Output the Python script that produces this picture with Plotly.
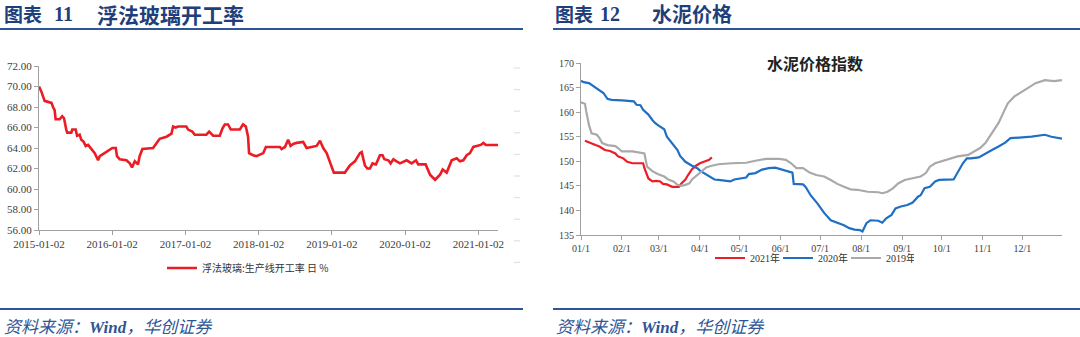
import plotly.graph_objects as go

# ---------------- 浮法玻璃:生产线开工率 (日, %) ----------------
glass_dates = [
    "2015-01-02", "2015-01-14", "2015-01-30", "2015-02-24", "2015-03-05", "2015-03-13",
    "2015-03-21", "2015-03-26", "2015-04-15", "2015-04-28", "2015-05-07", "2015-05-18",
    "2015-05-23", "2015-06-12", "2015-06-17", "2015-07-04", "2015-07-11", "2015-07-24",
    "2015-08-01", "2015-08-13", "2015-08-23", "2015-09-04", "2015-09-20", "2015-10-07",
    "2015-10-24", "2015-11-01", "2015-11-17", "2015-12-01", "2015-12-12", "2016-01-03",
    "2016-01-20", "2016-01-26", "2016-02-09", "2016-03-13", "2016-03-30", "2016-04-10",
    "2016-04-24", "2016-05-10", "2016-05-18", "2016-06-01", "2016-07-24", "2016-08-10",
    "2016-08-26", "2016-09-29", "2016-10-24", "2016-11-01", "2016-11-13", "2016-11-26",
    "2017-01-06", "2017-01-15", "2017-02-05", "2017-02-17", "2017-04-16", "2017-04-30",
    "2017-05-20", "2017-06-22", "2017-07-05", "2017-07-17", "2017-08-02", "2017-08-16",
    "2017-09-30", "2017-10-16", "2017-10-30", "2017-11-10", "2017-11-15", "2017-12-05",
    "2017-12-22", "2018-01-25", "2018-02-07", "2018-04-18", "2018-04-26", "2018-05-13",
    "2018-05-29", "2018-06-10", "2018-06-23", "2018-07-10", "2018-08-12", "2018-08-29",
    "2018-09-23", "2018-10-18", "2018-11-04", "2018-11-20", "2018-12-07", "2018-12-23",
    "2019-01-12", "2019-03-08", "2019-03-25", "2019-04-02", "2019-04-27", "2019-05-22",
    "2019-05-31", "2019-06-16", "2019-06-28", "2019-07-11", "2019-07-24", "2019-08-10",
    "2019-08-30", "2019-09-12", "2019-09-21", "2019-10-11", "2019-10-22", "2019-11-05",
    "2019-11-21", "2019-12-08", "2020-01-10", "2020-02-04", "2020-02-26", "2020-03-08",
    "2020-04-14", "2020-04-27", "2020-05-06", "2020-05-31", "2020-06-25", "2020-07-08",
    "2020-07-28", "2020-08-22", "2020-09-16", "2020-10-02", "2020-10-19", "2020-11-05",
    "2020-11-21", "2020-12-08", "2021-01-02", "2021-01-14", "2021-01-27", "2021-02-09",
    "2021-04-10",
]
glass_rate = [
    70.0, 69.5, 68.6, 68.5, 68.4, 68.0,
    67.7, 66.8, 66.8, 67.1, 66.9, 65.8,
    65.5, 65.5, 65.8, 65.8, 65.2, 65.3,
    64.8, 64.6, 64.2, 64.3, 63.9, 63.5,
    62.8, 63.2, 63.4, 63.6, 63.7, 64.0,
    64.0, 63.2, 62.9, 62.8, 62.5, 62.1,
    62.7, 62.4, 63.2, 63.9, 64.0, 64.5,
    64.9, 65.1, 65.4, 66.1, 66.0, 66.1,
    66.1, 65.8, 65.6, 65.3, 65.3, 65.6,
    65.2, 65.2, 65.9, 66.3, 66.3, 65.8,
    65.8, 66.3, 66.1, 65.1, 63.5, 63.3,
    63.2, 63.5, 64.1, 64.1, 63.9, 64.1,
    64.8, 64.2, 64.4, 64.5, 64.6, 64.0,
    64.1, 64.2, 64.7, 64.0, 63.5, 62.7,
    61.6, 61.6, 62.0, 62.3, 62.7, 63.5,
    63.6, 62.3, 62.0, 62.0, 62.5, 62.4,
    63.3, 63.3, 62.9, 62.8, 62.5, 62.9,
    62.7, 62.5, 62.8, 62.5, 62.8, 62.4,
    62.4, 61.7, 61.4, 60.9, 61.4, 61.9,
    61.6, 62.8, 63.0, 62.7, 62.8, 63.3,
    63.5, 64.1, 64.2, 64.3, 64.5, 64.3,
    64.3,
]
glass_ticks = ["2015-01-02", "2016-01-02", "2017-01-02", "2018-01-02",
               "2019-01-02", "2020-01-02", "2021-01-02"]
glass_yticks = [56, 58, 60, 62, 64, 66, 68, 70, 72]

# ---------------- 水泥价格指数 (月-日, 按年份对比) ----------------
cement_2021_md = [
    "01-04", "01-07", "01-12", "01-15", "01-19", "01-23", "01-27", "01-29", "02-02",
    "02-05", "02-09", "02-17", "02-18", "02-21", "02-24", "02-27", "03-02", "03-04",
    "03-07", "03-11", "03-16", "03-18", "03-21", "03-23", "03-26", "03-29", "04-01",
    "04-04", "04-08", "04-10",
]
cement_2021 = [
    154.2, 153.8, 153.3, 153.0, 152.3, 152.1, 151.6, 151.0, 150.6,
    149.9, 149.6, 149.6, 148.6, 146.5, 145.9, 146.0, 145.9, 145.4,
    145.3, 144.8, 144.8, 145.5, 146.3, 147.2, 148.4, 149.1, 149.6,
    149.9, 150.3, 150.8,
]

cement_2020_md = [
    "01-01", "01-03", "01-07", "01-10", "01-14", "01-18", "01-21", "01-24", "02-01",
    "02-10", "02-12", "02-15", "02-17", "02-21", "02-24", "02-26", "03-01", "03-05",
    "03-07", "03-11", "03-15", "03-17", "03-21", "03-26", "03-30", "04-01", "04-04",
    "04-08", "04-12", "04-15", "04-22", "04-24", "04-27", "05-01", "05-06", "05-08",
    "05-13", "05-18", "05-23", "05-28", "06-01", "06-05", "06-10", "06-11", "06-18",
    "06-20", "06-24", "06-29", "07-04", "07-09", "07-14", "07-19", "07-23", "07-27",
    "07-31", "08-02", "08-05", "08-08", "08-14", "08-17", "08-20", "08-24", "08-27",
    "08-31", "09-05", "09-09", "09-13", "09-15", "09-18", "09-22", "09-26", "09-29",
    "10-10", "10-13", "10-17", "10-20", "10-23", "10-29", "11-03", "11-08", "11-13",
    "11-18", "11-22", "11-28", "12-08", "12-18", "12-23", "12-31",
]
cement_2020 = [
    166.4, 166.1, 165.9, 165.4, 164.6, 163.9, 162.7, 162.5, 162.4,
    162.2, 161.5, 161.4, 160.5, 159.5, 158.4, 157.8, 157.2, 156.5,
    155.0, 153.7, 152.3, 151.1, 149.9, 149.1, 148.6, 148.1, 147.6,
    146.9, 146.3, 146.2, 146.0, 145.9, 146.3, 146.5, 146.7, 147.4,
    147.6, 148.3, 148.6, 148.7, 148.4, 148.0, 147.7, 145.4, 145.3,
    144.8, 143.0, 141.4, 139.5, 138.0, 137.5, 137.0, 136.4, 136.1,
    136.0, 135.7, 137.4, 138.0, 137.9, 137.5, 138.4, 139.1, 140.4,
    140.8, 141.1, 141.6, 142.8, 143.1, 144.5, 144.8, 145.9, 146.2,
    146.3, 147.6, 149.6, 150.6, 150.6, 150.8, 151.6, 152.3, 153.0,
    153.8, 154.7, 154.8, 155.0, 155.4, 155.0, 154.6,
]

cement_2019_md = [
    "01-01", "01-04", "01-05", "01-07", "01-09", "01-13", "01-15", "01-17", "01-21",
    "01-27", "01-29", "02-01", "02-09", "02-16", "02-18", "02-20", "02-24", "02-28",
    "03-05", "03-08", "03-12", "03-15", "03-18", "03-21", "03-24", "03-26", "03-30",
    "04-03", "04-06", "04-10", "04-15", "04-25", "05-06", "05-13", "05-21", "05-31",
    "06-05", "06-09", "06-13", "06-18", "06-23", "06-28", "07-04", "07-09", "07-14",
    "07-19", "07-24", "07-29", "08-06", "08-14", "08-17", "08-21", "08-25", "08-29",
    "09-03", "09-08", "09-15", "09-19", "09-22", "09-26", "10-01", "10-08", "10-13",
    "10-21", "10-26", "10-30", "11-03", "11-08", "11-13", "11-17", "11-20", "11-25",
    "12-01", "12-06", "12-11", "12-18", "12-25", "12-31",
]
cement_2019 = [
    162.0, 161.7, 160.1, 157.4, 155.7, 155.4, 154.7, 153.7, 153.3,
    153.1, 152.7, 152.0, 152.0, 151.8, 151.6, 148.9, 148.0, 147.4,
    146.9, 146.3, 145.9, 145.2, 145.0, 145.2, 145.5, 146.3, 147.2,
    148.0, 148.8, 149.1, 149.4, 149.6, 149.7, 150.1, 150.5, 150.5,
    150.3, 149.6, 148.6, 148.6, 147.7, 147.2, 146.9, 146.2, 145.4,
    144.8, 144.3, 144.2, 143.8, 143.7, 143.5, 143.8, 144.5, 145.5,
    146.2, 146.5, 146.9, 147.6, 148.9, 149.6, 150.0, 150.5, 151.0,
    151.3, 152.0, 152.7, 153.7, 155.7, 157.8, 160.1, 161.8, 163.2,
    164.2, 165.2, 165.9, 166.5, 166.3, 166.5,
]
cement_month_ticks = ["01-01", "02-01", "03-01", "04-01", "05-01", "06-01",
                      "07-01", "08-01", "09-01", "10-01", "11-01", "12-01"]
cement_yticks = [135, 140, 145, 150, 155, 160, 165, 170]

# all seasonal series share one display year on the month/day axis
SEASON_YEAR = "2021-"


def on_season_axis(md_list):
    return [SEASON_YEAR + md for md in md_list]


W, H = 1080, 337
NAVY = "#2f5597"
HEAD_BLUE = "#1f3f7a"
AXIS_GREY = "#a0a0a0"
TICK_FONT = dict(family="Liberation Serif, Times New Roman, serif", size=11, color="#404040")
CJK = "Noto Sans CJK SC"


def px_x(x):
    return x / W


def px_y(y):
    return 1 - y / H


fig = go.Figure()

fig.add_trace(go.Scatter(
    x=glass_dates, y=glass_rate, mode="lines", line=dict(color="#ec1c24", width=2.6),
    name="浮法玻璃:生产线开工率 日 %", xaxis="x", yaxis="y", legend="legend",
))

series = [
    ("2021年", cement_2021_md, cement_2021, "#ee1c25"),
    ("2020年", cement_2020_md, cement_2020, "#1f6fc5"),
    ("2019年", cement_2019_md, cement_2019, "#a9a9a9"),
]
for name, md, vals, col in series:
    fig.add_trace(go.Scatter(
        x=on_season_axis(md), y=vals, mode="lines", line=dict(color=col, width=2.2),
        name=name, xaxis="x2", yaxis="y2", legend="legend2",
    ))

axis_common = dict(
    showgrid=False, zeroline=False, showline=True, linecolor=AXIS_GREY, linewidth=1,
    ticks="outside", ticklen=4, tickcolor=AXIS_GREY, tickfont=TICK_FONT, automargin=False,
)

fig.update_layout(
    template="none",
    width=W, height=H,
    margin=dict(l=0, r=0, t=0, b=0, pad=0, autoexpand=False),
    paper_bgcolor="white", plot_bgcolor="white",
    font=dict(family=CJK),
    xaxis=dict(
        domain=[px_x(39), px_x(498)], anchor="y", type="date",
        range=["2015-01-02", "2021-04-10"],
        tickvals=glass_ticks, tickformat="%Y-%m-%d", **axis_common,
    ),
    yaxis=dict(
        domain=[px_y(230), px_y(66)], anchor="x",
        range=[56, 72], tickvals=glass_yticks, tickformat=".2f", **axis_common,
    ),
    xaxis2=dict(
        domain=[px_x(581), px_x(1062)], anchor="y2", type="date",
        range=[SEASON_YEAR + "01-01", SEASON_YEAR + "12-31"],
        tickvals=on_season_axis(cement_month_ticks), tickformat="%m/%-d",
        **{**axis_common, "tickfont": dict(TICK_FONT, size=10)},
    ),
    yaxis2=dict(
        domain=[px_y(235), px_y(63)], anchor="x2",
        range=[135, 170], tickvals=cement_yticks,
        **{**axis_common, "tickfont": dict(TICK_FONT, size=10)},
    ),
    legend=dict(
        orientation="h", x=px_x(162), y=px_y(268), xanchor="left", yanchor="middle",
        font=dict(family=CJK, size=10, color="#333333"), bgcolor="rgba(0,0,0,0)",
        itemwidth=30, tracegroupgap=0,
    ),
    legend2=dict(
        orientation="h", x=px_x(710), y=px_y(258), xanchor="left", yanchor="middle",
        font=dict(family="Liberation Serif, " + CJK, size=10, color="#333333"),
        bgcolor="rgba(0,0,0,0)", itemwidth=30, entrywidth=23, entrywidthmode="pixels",
    ),
    showlegend=True,
)

annotations = [
    dict(text="<b>图表</b>", x=px_x(2), y=px_y(14), font=dict(family=CJK, size=19, color=HEAD_BLUE)),
    dict(text="<b>11</b>", x=px_x(52), y=px_y(14),
         font=dict(family="Liberation Serif", size=20, color=HEAD_BLUE)),
    dict(text="<b>浮法玻璃开工率</b>", x=px_x(95), y=px_y(14),
         font=dict(family=CJK, size=21, color=HEAD_BLUE)),
    dict(text="<b>图表</b>", x=px_x(553), y=px_y(14), font=dict(family=CJK, size=19, color=HEAD_BLUE)),
    dict(text="<b>12</b>", x=px_x(598), y=px_y(14),
         font=dict(family="Liberation Serif", size=20, color=HEAD_BLUE)),
    dict(text="<b>水泥价格</b>", x=px_x(650), y=px_y(14),
         font=dict(family=CJK, size=20, color=HEAD_BLUE)),
    dict(text="资料来源：<b>Wind</b>，华创证券", x=px_x(2), y=px_y(327),
         font=dict(family="Liberation Serif, " + CJK, size=17, color=NAVY, style="italic")),
    dict(text="资料来源：<b>Wind</b>，华创证券", x=px_x(554), y=px_y(327),
         font=dict(family="Liberation Serif, " + CJK, size=17, color=NAVY, style="italic")),
]
for a in annotations:
    fig.add_annotation(xref="paper", yref="paper", xanchor="left", yanchor="middle",
                       showarrow=False, **a)

fig.add_annotation(
    text="<b>水泥价格指数</b>", xref="paper", yref="paper", x=px_x(815), y=px_y(63),
    xanchor="center", yanchor="middle", showarrow=False,
    font=dict(family=CJK, size=16, color="#222222"),
)

# header / footer rules
rules = [(0, 523, 29), (553, W, 29), (0, 523, 309), (553, W, 309)]
for x0, x1, y in rules:
    fig.add_shape(type="line", xref="paper", yref="paper",
                  x0=px_x(x0), x1=px_x(x1), y0=px_y(y), y1=px_y(y),
                  line=dict(color=NAVY, width=2))

# faint unlabeled tick marks of the unused right-hand axis
for i in range(10):
    y = 68 + i * 21.6
    fig.add_shape(type="line", xref="paper", yref="paper",
                  x0=px_x(514), x1=px_x(520), y0=px_y(y), y1=px_y(y),
                  line=dict(color="#dddddd", width=1))

fig.write_html("out.html")
